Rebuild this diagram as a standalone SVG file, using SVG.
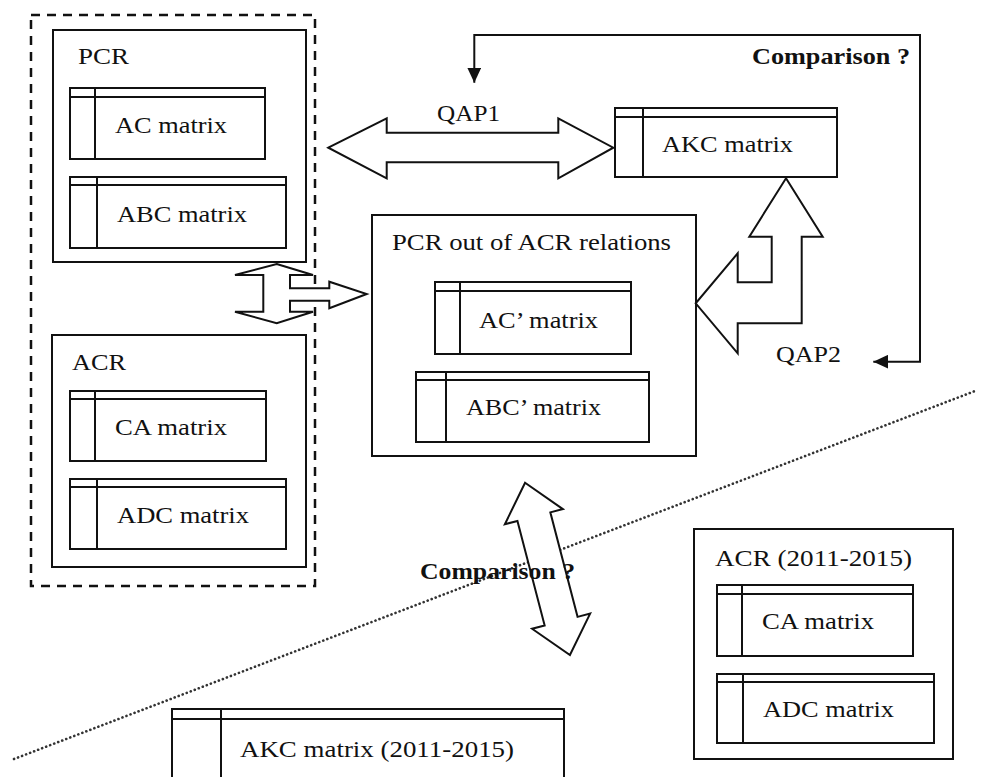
<svg xmlns="http://www.w3.org/2000/svg" width="981" height="777" viewBox="0 0 981 777">
<style>
.box{fill:#fff;stroke:#111;stroke-width:2}
.ln{fill:none;stroke:#111;stroke-width:2}
.t{font-family:"Liberation Serif","Times New Roman",serif;font-size:24px;fill:#111}
.b{font-family:"Liberation Serif","Times New Roman",serif;font-size:24px;font-weight:bold;fill:#111}
.arr{fill:#fff;stroke:#111;stroke-width:2;stroke-linejoin:miter}
.dash{fill:none;stroke:#111;stroke-width:2.5;stroke-dasharray:9 7}
.dot{fill:none;stroke:#333;stroke-width:2.6;stroke-dasharray:0.1 4.2;stroke-linecap:round}
</style>
<defs>
<marker id="head" markerUnits="userSpaceOnUse" markerWidth="15" markerHeight="14" refX="15" refY="7" orient="auto-start-reverse">
<path d="M0,0 L15,7 L0,14 z" fill="#111"/>
</marker>
</defs>
<rect width="981" height="777" fill="#fff"/>
<line class="dot" x1="14" y1="759" x2="975" y2="391"/>

<g id="group-left">
<rect class="dash" x="31" y="15" width="284" height="571"/>
</g>

<g id="pcr">
<rect class="box" x="53" y="30" width="253" height="232"/>
<text class="t" x="78" y="64" textLength="51" lengthAdjust="spacingAndGlyphs">PCR</text>
</g>
<g id="ac-matrix">
<rect class="box" x="70" y="88" width="195" height="71"/>
<path class="ln" d="M70,97 H265 M95,88 V159"/>
<text class="t" x="115" y="133" textLength="112" lengthAdjust="spacingAndGlyphs">AC matrix</text>
</g>
<g id="abc-matrix">
<rect class="box" x="70" y="177" width="216" height="71"/>
<path class="ln" d="M70,185 H286 M97,177 V248"/>
<text class="t" x="117" y="222" textLength="130" lengthAdjust="spacingAndGlyphs">ABC matrix</text>
</g>

<g id="acr">
<rect class="box" x="52" y="335" width="254" height="232"/>
<text class="t" x="72" y="370" textLength="54" lengthAdjust="spacingAndGlyphs">ACR</text>
</g>
<g id="ca-matrix">
<rect class="box" x="70" y="391" width="196" height="70"/>
<path class="ln" d="M70,399 H266 M95,391 V461"/>
<text class="t" x="115" y="435" textLength="112" lengthAdjust="spacingAndGlyphs">CA matrix</text>
</g>
<g id="adc-matrix">
<rect class="box" x="70" y="479" width="216" height="70"/>
<path class="ln" d="M70,487 H286 M97,479 V549"/>
<text class="t" x="117" y="523" textLength="132" lengthAdjust="spacingAndGlyphs">ADC matrix</text>
</g>

<g id="akc-matrix">
<rect class="box" x="615" y="108" width="222" height="69"/>
<path class="ln" d="M615,117 H837 M643,108 V177"/>
<text class="t" x="662" y="152" textLength="131" lengthAdjust="spacingAndGlyphs">AKC matrix</text>
</g>

<g id="pcr-out-of-acr">
<rect class="box" x="372" y="215" width="324" height="241"/>
<text class="t" x="392" y="250" textLength="279" lengthAdjust="spacingAndGlyphs">PCR out of ACR relations</text>
</g>
<g id="acp-matrix">
<rect class="box" x="435" y="282" width="196" height="72"/>
<path class="ln" d="M435,291 H631 M460,282 V354"/>
<text class="t" x="479" y="328" textLength="119" lengthAdjust="spacingAndGlyphs">AC’ matrix</text>
</g>
<g id="abcp-matrix">
<rect class="box" x="416" y="372" width="233" height="70"/>
<path class="ln" d="M416,380 H649 M446,372 V442"/>
<text class="t" x="466" y="415" textLength="135" lengthAdjust="spacingAndGlyphs">ABC’ matrix</text>
</g>

<g id="acr-2011">
<rect class="box" x="694" y="529" width="259" height="230"/>
<text class="t" x="715" y="566" textLength="197" lengthAdjust="spacingAndGlyphs">ACR (2011-2015)</text>
</g>
<g id="ca-matrix-2011">
<rect class="box" x="717" y="585" width="196" height="71"/>
<path class="ln" d="M717,594 H913 M742,585 V656"/>
<text class="t" x="762" y="629" textLength="112" lengthAdjust="spacingAndGlyphs">CA matrix</text>
</g>
<g id="adc-matrix-2011">
<rect class="box" x="717" y="674" width="217" height="69"/>
<path class="ln" d="M717,682 H934 M743,674 V743"/>
<text class="t" x="763" y="717" textLength="131" lengthAdjust="spacingAndGlyphs">ADC matrix</text>
</g>

<g id="akc-matrix-2011">
<rect class="box" x="172" y="709" width="392" height="90"/>
<path class="ln" d="M172,719 H564 M221,709 V799"/>
<text class="t" x="240" y="757" textLength="274" lengthAdjust="spacingAndGlyphs">AKC matrix (2011-2015)</text>
</g>

<g id="connectors">
<polygon class="arr" points="328.3,147.7 386.7,118.3 386.7,132.7 558.3,132.7 558.3,118.3 613.3,147.7 558.3,178.3 558.3,162.3 386.7,162.3 386.7,178.3"/>
<polygon class="arr" points="276.7,264 313,275 290,275 290,288.3 329.3,288.3 329.3,281.7 366.7,294 329.3,308.3 329.3,300.7 290,300.7 290,311.7 313,311.7 276.7,323.3 235,311.7 263.3,311.7 263.3,275 235,275"/>
<polygon class="arr" points="786,178.3 822.7,236.7 801.7,236.7 801.7,323.3 737.7,323.3 737.7,353.3 695.7,303.3 737.7,253.3 737.7,282.3 771.7,282.3 771.7,236.7 749.3,236.7"/>
<polygon class="arr" transform="translate(547.5 568.9) rotate(-14.6)" points="0,-89 30,-54 17,-54 17,54 30,54 0,89 -30,54 -17,54 -17,-54 -30,-54"/>
<path class="ln" d="M474.3,82.7 V35 H920 V361.7 H873.3" marker-start="url(#head)" marker-end="url(#head)"/>
<text class="t" x="437" y="121" textLength="63" lengthAdjust="spacingAndGlyphs">QAP1</text>
<text class="t" x="776" y="362" textLength="65" lengthAdjust="spacingAndGlyphs">QAP2</text>
<text class="b" x="752" y="64" textLength="158" lengthAdjust="spacingAndGlyphs">Comparison ?</text>
<text class="b" x="420" y="579" textLength="155" lengthAdjust="spacingAndGlyphs">Comparison ?</text>
</g>
</svg>
